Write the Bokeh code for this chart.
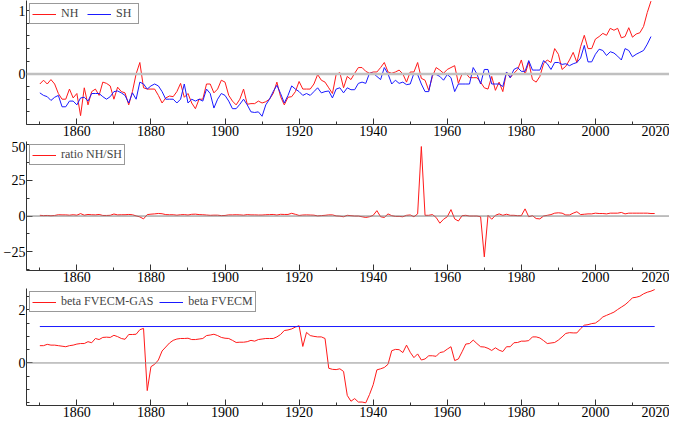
from bokeh.plotting import figure
from bokeh.models import Range1d, Span, FixedTicker, Legend, Spacer
from bokeh.layouts import column
from bokeh.embed import file_html
from bokeh.resources import INLINE

# ---------------- data ----------------
years_hemi = list(range(1850, 2016))
nh = [
    -0.16, -0.10, -0.16, -0.09, -0.16, -0.31, -0.40, -0.40, -0.24, -0.38,
    -0.31, -0.66, -0.22, -0.49, -0.28, -0.24, -0.34, -0.13, -0.15, -0.19,
    -0.40, -0.21, -0.28, -0.30, -0.49, -0.28, 0.00, 0.18, -0.22, -0.24,
    -0.24, -0.24, -0.34, -0.46, -0.38, -0.35, -0.36, -0.28, -0.15, -0.37,
    -0.31, -0.46, -0.55, -0.40, -0.40, -0.16, -0.16, -0.30, -0.24, -0.10,
    -0.13, -0.34, -0.43, -0.49, -0.40, -0.24, -0.48, -0.47, -0.47, -0.43,
    -0.46, -0.44, -0.40, -0.31, -0.13, -0.36, -0.49, -0.37, -0.36, -0.28,
    -0.12, -0.24, -0.24, -0.24, -0.16, -0.01, -0.10, -0.13, -0.22, -0.31,
    -0.01, 0.02, -0.22, -0.04, -0.09, 0.01, 0.10, 0.10, 0.04, 0.01,
    0.03, 0.03, 0.10, 0.18, 0.03, 0.01, 0.03, 0.06, 0.00, -0.13,
    0.03, 0.03, 0.18, -0.07, -0.10, -0.26, -0.04, 0.10, 0.06, 0.01,
    0.07, 0.10, 0.13, -0.15, 0.00, 0.01, -0.06, -0.06, -0.06, -0.13,
    -0.22, -0.24, -0.04, -0.26, -0.13, -0.28, 0.03, -0.06, 0.01, 0.07,
    0.22, -0.01, 0.19, -0.09, -0.13, -0.04, 0.16, 0.22, 0.18, 0.40,
    0.31, 0.07, 0.12, 0.22, 0.34, 0.18, 0.43, 0.61, 0.40, 0.40,
    0.55, 0.59, 0.64, 0.61, 0.72, 0.69, 0.72, 0.57, 0.59, 0.73,
    0.58, 0.63, 0.65, 0.75, 0.97, 1.15,
]
sh = [
    -0.30, -0.34, -0.36, -0.42, -0.37, -0.34, -0.52, -0.52, -0.43, -0.43,
    -0.49, -0.38, -0.37, -0.43, -0.31, -0.31, -0.31, -0.36, -0.40, -0.36,
    -0.28, -0.27, -0.30, -0.34, -0.46, -0.30, -0.40, -0.13, -0.16, -0.24,
    -0.19, -0.16, -0.19, -0.28, -0.40, -0.40, -0.40, -0.46, -0.40, -0.16,
    -0.46, -0.40, -0.43, -0.40, -0.43, -0.24, -0.31, -0.54, -0.40, -0.31,
    -0.34, -0.43, -0.55, -0.55, -0.48, -0.40, -0.49, -0.60, -0.61, -0.60,
    -0.67, -0.49, -0.40, -0.28, -0.18, -0.31, -0.46, -0.34, -0.19, -0.24,
    -0.28, -0.34, -0.31, -0.34, -0.28, -0.22, -0.30, -0.28, -0.27, -0.38,
    -0.24, -0.22, -0.30, -0.22, -0.25, -0.25, -0.15, -0.13, -0.15, 0.01,
    0.01, -0.04, -0.09, 0.10, 0.00, -0.16, -0.10, -0.15, -0.13, -0.17,
    -0.16, 0.01, -0.01, -0.16, -0.28, -0.28, -0.01, -0.01, -0.04, -0.10,
    -0.01, -0.06, -0.28, -0.16, -0.16, -0.16, -0.16, 0.10, 0.00, -0.16,
    0.07, 0.07, -0.16, -0.16, -0.16, -0.20, 0.03, -0.06, 0.07, 0.10,
    0.04, 0.04, 0.21, 0.06, 0.06, 0.06, 0.21, 0.16, 0.07, 0.18,
    0.18, 0.15, 0.16, 0.13, 0.16, 0.18, 0.25, 0.45, 0.19, 0.19,
    0.31, 0.39, 0.37, 0.29, 0.35, 0.33, 0.28, 0.22, 0.40, 0.37,
    0.27, 0.31, 0.34, 0.37, 0.47, 0.59,
]

years_model = list(range(1850, 2017))
ratio = [
    0.5, 0.3, 0.4, 0.2, 0.4, 0.9, 0.8, 0.8, 0.6, 0.9,
    0.6, 1.7, 0.6, 1.1, 0.9, 0.8, 1.1, 0.4, 0.4, 0.5,
    1.4, 0.8, 0.9, 0.9, 1.1, 0.9, 0.1, -0.6, -2.0, 1.0,
    1.3, 1.5, 1.8, 1.6, 1.0, 0.9, 0.9, 0.6, 0.9, 1.0,
    0.7, 1.2, 1.3, 1.0, 0.9, 0.7, 0.5, 0.6, 0.6, 0.3,
    0.4, 0.8, 0.8, 0.9, 0.8, 0.6, 1.0, 0.8, 0.8, 0.7,
    0.7, 0.9, 1.0, 1.1, 0.7, 1.2, 1.1, 1.1, 1.9, 1.2,
    0.4, 0.7, 0.8, 0.7, 0.6, 0.1, 0.3, 0.5, 0.8, 0.8,
    0.1, -0.1, -0.5, 0.5, 0.25, 0.0, 0.0, -0.5, -1.0, -0.5,
    0.5, 3.75, -0.5, -1.0, 1.5, 0.25, -0.25, -0.25, -0.5, 0.5,
    0.75, -0.5, 1.5, 48.5, 0.5, 0.5, 1.0, -1.0, -5.0, -2.25,
    -0.5, 4.5, -2.0, -3.5, 0.25, 0.5, 0.0, 0.0, 0.0, -0.5,
    -28.5, 0.5, -2.25, 0.5, 1.5, 0.5, 1.25, 0.5, 0.5, 0.25,
    0.25, 5.0, -0.5, 0.25, -1.75, -2.0, 0.0, 0.5, 1.0, 2.0,
    2.25, 2.0, 0.75, 0.75, 2.0, 3.0, 1.0, 1.25, 1.5, 1.5,
    2.0, 1.75, 1.75, 1.5, 2.0, 2.0, 2.0, 2.5, 1.5, 2.0,
    2.0, 2.0, 2.0, 2.0, 2.0, 1.75, 1.75,
]
beta_gas = [
    0.65, 0.65, 0.70, 0.67, 0.67, 0.65, 0.63, 0.61, 0.65, 0.67,
    0.71, 0.73, 0.73, 0.80, 0.76, 0.92, 0.88, 0.96, 0.97, 0.96,
    1.04, 0.99, 0.92, 0.89, 1.07, 1.07, 1.08, 1.25, 1.30, -1.04,
    -0.14, -0.05, 0.11, 0.45, 0.60, 0.75, 0.85, 0.90, 0.92, 0.92,
    0.93, 0.88, 0.88, 0.90, 0.92, 1.03, 1.05, 1.08, 1.03, 0.96,
    0.93, 0.92, 0.85, 0.77, 0.78, 0.78, 0.80, 0.85, 0.82, 0.88,
    0.90, 0.92, 0.92, 0.92, 0.98, 1.07, 1.22, 1.24, 1.28, 1.35,
    1.40, 0.62, 1.15, 1.03, 1.00, 0.98, 0.98, 0.92, -0.20, -0.24,
    -0.25, -0.22, -0.32, -1.22, -1.44, -1.34, -1.47, -1.47, -1.50, -1.19,
    -0.82, -0.26, -0.22, -0.17, -0.05, 0.46, 0.51, 0.50, 0.39, 0.67,
    0.40, 0.20, 0.34, 0.11, 0.15, 0.27, 0.27, 0.25, 0.39, 0.42,
    0.52, 0.61, 0.09, 0.15, 0.42, 0.71, 0.73, 0.86, 0.73, 0.61,
    0.60, 0.55, 0.47, 0.57, 0.48, 0.43, 0.61, 0.61, 0.76, 0.77,
    0.82, 0.82, 0.84, 0.98, 0.98, 0.94, 0.84, 0.73, 0.75, 0.77,
    0.86, 0.98, 1.11, 1.14, 1.13, 1.13, 1.29, 1.42, 1.44, 1.48,
    1.50, 1.60, 1.73, 1.79, 1.85, 1.91, 2.01, 2.10, 2.19, 2.31,
    2.45, 2.47, 2.51, 2.60, 2.66, 2.70, 2.76,
]
beta_fvecm = 1.37

x_major = [1860, 1880, 1900, 1920, 1940, 1960, 1980, 2000, 2020]
x_minor = [1850, 1870, 1890, 1910, 1930, 1950, 1970, 1990, 2010]

FONT = "Liberation Serif"
W = 669


def make_fig(h, y0, y1, ymaj, ymin):
    p = figure(width=W, height=h, x_range=Range1d(1846.4, 2020),
               y_range=Range1d(y0, y1), output_backend="svg",
               toolbar_location=None, min_border_left=22, min_border_right=0,
               min_border_top=0, min_border_bottom=0)
    p.grid.visible = False
    p.outline_line_color = None
    p.background_fill_color = "white"
    p.border_fill_color = "white"
    p.xaxis.ticker = FixedTicker(ticks=x_major, minor_ticks=x_minor)
    p.yaxis.ticker = FixedTicker(ticks=ymaj, minor_ticks=ymin)
    for ax in (p.xaxis[0], p.yaxis[0]):
        ax.axis_line_color = "#333333"
        ax.axis_line_width = 1
        ax.major_tick_line_color = "#333333"
        ax.minor_tick_line_color = "#333333"
        ax.major_tick_in = 6
        ax.major_tick_out = 0
        ax.minor_tick_in = 3
        ax.minor_tick_out = 0
        ax.major_label_text_font = FONT
        ax.major_label_text_font_size = "14px"
        ax.major_label_text_color = "black"
        ax.major_label_text_line_height = 1.0
        ax.major_label_standoff = 1
        ax.axis_label_standoff = 0
    return p


def style_legend(p, items):
    lg = Legend(items=items, orientation="horizontal", location="top_left")
    lg.margin = 3
    lg.padding = 2
    lg.spacing = 6
    lg.glyph_width = 24
    lg.glyph_height = 12
    lg.label_height = 12
    lg.label_standoff = 5
    lg.label_text_font = FONT
    lg.label_text_font_size = "12px"
    lg.border_line_color = "#333333"
    lg.border_line_width = 1
    lg.background_fill_alpha = 1
    p.add_layout(lg, "center")


# ---- top: NH / SH ----
p1 = make_fig(138, -0.8, 1.16, [0, 1],
              [-0.8, -0.6, -0.4, -0.2, 0.2, 0.4, 0.6, 0.8])
p1.add_layout(Span(location=0, dimension="width", line_color="#c0c0c0", line_width=2.5))
r_nh = p1.line(years_hemi, nh, line_color="#ff1a1a", line_width=1)
r_sh = p1.line(years_hemi, sh, line_color="#1a1aff", line_width=1)
style_legend(p1, [("NH", [r_nh]), ("SH", [r_sh])])

# ---- middle: ratio ----
p2 = make_fig(143, -38, 52, [-25, 0, 25, 50], [-37.5, -12.5, 12.5, 37.5])
p2.add_layout(Span(location=0, dimension="width", line_color="#808080", line_width=1))
r_ratio = p2.line(years_model, ratio, line_color="#ff1a1a", line_width=1)
style_legend(p2, [("ratio NH/SH", [r_ratio])])

# ---- bottom: betas ----
p3 = make_fig(131, -1.6, 2.8, [0, 2], [-1.5, -1, -0.5, 0.5, 1, 1.5, 2.5])
p3.add_layout(Span(location=0, dimension="width", line_color="#909090", line_width=1))
r_gas = p3.line(years_model, beta_gas, line_color="#ff1a1a", line_width=1)
r_fv = p3.line([years_model[0], years_model[-1]], [beta_fvecm, beta_fvecm],
               line_color="#1a1aff", line_width=1)
style_legend(p3, [("beta FVECM-GAS", [r_gas]), ("beta FVECM", [r_fv])])

layout = column(p1, Spacer(width=W, height=3), p2, Spacer(width=W, height=4), p3, spacing=0)
open("out.html", "w").write(file_html(layout, INLINE))
